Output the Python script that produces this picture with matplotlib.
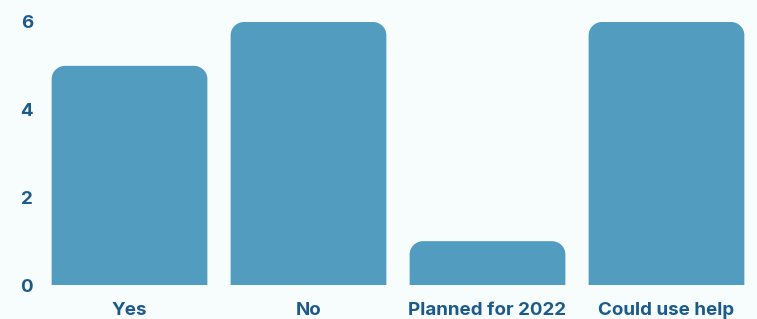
import matplotlib.pyplot as plt
from matplotlib.path import Path
from matplotlib.patches import PathPatch

categories = ['Yes', 'No', 'Planned for 2022', 'Could use help']
counts = [5, 6, 1, 6]
yticks = [0, 2, 4, 6]

bg = '#f7fdfd'
bar_color = '#529cbf'
text_color = '#1c5a8c'

# Noto/Open Sans here are variable fonts without a usable bold, so use Inter
plt.rcParams['font.family'] = ['Inter', 'DejaVu Sans']

fig = plt.figure(figsize=(7.57, 3.19), dpi=100, facecolor=bg)
ax = fig.add_axes([40 / 757, 34 / 319, 716 / 757, 263 / 319])
ax.set_facecolor(bg)

bars = ax.bar(range(len(categories)), counts, width=0.87, color=bar_color)

# swap plain rectangles for ones with rounded top corners
rx, ry = 0.075, 0.30
for b in bars:
    x0, w, h = b.get_x(), b.get_width(), b.get_height()
    x1 = x0 + w
    k = 0.55
    verts = [(x0, 0), (x0, h - ry),
             (x0, h - ry + k * ry), (x0 + rx - k * rx, h), (x0 + rx, h),
             (x1 - rx, h),
             (x1 - rx + k * rx, h), (x1, h - ry + k * ry), (x1, h - ry),
             (x1, 0), (x0, 0)]
    codes = [Path.MOVETO, Path.LINETO,
             Path.CURVE4, Path.CURVE4, Path.CURVE4,
             Path.LINETO,
             Path.CURVE4, Path.CURVE4, Path.CURVE4,
             Path.LINETO, Path.CLOSEPOLY]
    ax.add_patch(PathPatch(Path(verts, codes), facecolor=bar_color, edgecolor='none'))
    b.set_visible(False)

ax.set_xlim(-0.5, len(categories) - 0.5)
ax.set_ylim(0, 6)
ax.set_yticks(yticks)
ax.set_xticks(range(len(categories)))
ax.set_xticklabels(categories)
ax.tick_params(axis='both', length=0, labelsize=13.5, labelcolor=text_color)
ax.tick_params(axis='x', pad=12)
ax.tick_params(axis='y', pad=5)
for lab in ax.get_xticklabels() + ax.get_yticklabels():
    lab.set_fontweight('bold')
for s in ax.spines.values():
    s.set_visible(False)

fig.savefig('out.png', dpi=100, facecolor=bg)
